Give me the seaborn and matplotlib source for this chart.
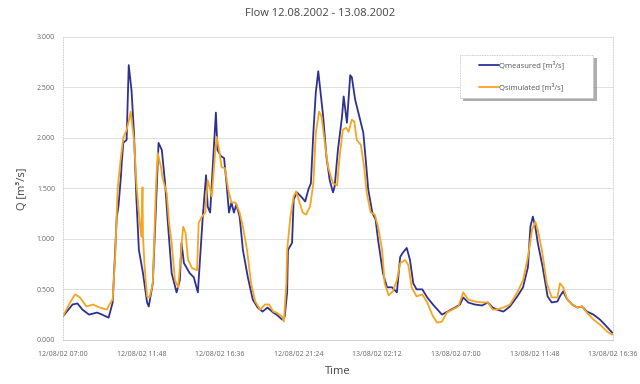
import matplotlib
matplotlib.use("Agg")
import matplotlib.pyplot as plt
import matplotlib.patches as mpatches
import seaborn as sns
import pandas as pd
from matplotlib.ticker import FormatStrFormatter

# hours after 12/08/02 07:00
meas_hours = [0.0, 0.6, 0.9, 1.2, 1.6, 2.1, 2.4, 2.8, 3.05, 3.2, 3.3, 3.4, 3.55, 3.6, 3.7, 3.9,
              3.97, 4.03, 4.2, 4.35, 4.5, 4.65, 4.9, 5.15, 5.25, 5.5, 5.75, 5.85, 6.05, 6.25,
              6.4, 6.65, 6.95, 7.15, 7.25, 7.4, 7.75, 8.0, 8.25, 8.45, 8.55, 8.75, 8.85, 9.0,
              9.1, 9.35, 9.45, 9.65, 9.85, 10.0, 10.15, 10.3, 10.45, 10.6, 10.8, 11.0, 11.3,
              11.6, 11.9, 12.2, 12.5, 12.85, 13.05, 13.4, 13.55, 13.7, 13.75, 14.0, 14.1, 14.3,
              14.6, 14.8, 15.0, 15.15, 15.3, 15.45, 15.6, 15.7, 15.9, 16.1, 16.3, 16.5, 16.6,
              16.8, 17.05, 17.15, 17.35, 17.55, 17.65, 17.85, 18.0, 18.2, 18.35, 18.5, 18.65,
              18.9, 19.1, 19.25, 19.55, 19.8, 20.1, 20.4, 20.6, 20.75, 21.0, 21.2, 21.4, 21.6,
              21.95, 22.25, 22.6, 23.15, 23.5, 23.95, 24.25, 24.45, 24.75, 25.15, 25.6, 25.95,
              26.25, 26.5, 26.9, 27.3, 27.75, 28.1, 28.4, 28.55, 28.7, 28.85, 29.0, 29.3, 29.6,
              29.85, 30.2, 30.35, 30.55, 30.8, 31.1, 31.4, 31.7, 32.0, 32.4, 32.8, 33.1, 33.55]
q_measured = [0.23, 0.35, 0.36, 0.30, 0.25, 0.27, 0.25, 0.22, 0.37, 0.89, 1.22, 1.32, 1.61, 1.75,
              1.95, 1.98, 2.38, 2.72, 2.47, 2.05, 1.39, 0.89, 0.66, 0.37, 0.33, 0.56, 1.55, 1.95,
              1.88, 1.55, 1.20, 0.66, 0.47, 0.59, 0.96, 0.76, 0.66, 0.62, 0.47, 0.96, 1.22, 1.63,
              1.32, 1.26, 1.55, 2.25, 1.88, 1.82, 1.80, 1.55, 1.26, 1.36, 1.26, 1.34, 1.22, 0.89,
              0.62, 0.40, 0.32, 0.28, 0.32, 0.27, 0.25, 0.20, 0.23, 0.47, 0.89, 0.96, 1.39, 1.46,
              1.41, 1.37, 1.49, 1.55, 2.05, 2.45, 2.66, 2.51, 2.21, 1.81, 1.58, 1.46, 1.52, 1.88,
              2.21, 2.41, 2.15, 2.62, 2.60, 2.38, 2.28, 2.15, 2.05, 1.78, 1.49, 1.26, 1.19, 0.99,
              0.66, 0.52, 0.52, 0.47, 0.82, 0.86, 0.91, 0.79, 0.56, 0.50, 0.50, 0.42, 0.35, 0.25,
              0.28, 0.32, 0.35, 0.42, 0.37, 0.35, 0.34, 0.37, 0.32, 0.30, 0.28, 0.33, 0.43, 0.52,
              0.72, 1.12, 1.22, 1.12, 0.96, 0.72, 0.43, 0.37, 0.38, 0.43, 0.48, 0.40, 0.35, 0.32,
              0.33, 0.28, 0.25, 0.20, 0.15, 0.07]

sim_hours = [0.0, 0.45, 0.75, 1.05, 1.45, 1.85, 2.25, 2.7, 2.85, 3.05, 3.2, 3.35, 3.55, 3.7, 3.9,
             4.05, 4.15, 4.35, 4.5, 4.7, 4.8, 4.87, 4.9, 5.0, 5.15, 5.3, 5.5, 5.7, 5.8, 6.0, 6.1,
             6.35, 6.5, 6.65, 6.85, 7.05, 7.2, 7.35, 7.5, 7.65, 7.9, 8.2, 8.3, 8.5, 8.7, 8.85,
             9.0, 9.1, 9.3, 9.4, 9.55, 9.7, 9.9, 10.1, 10.3, 10.55, 10.8, 11.0, 11.25, 11.5,
             11.75, 12.05, 12.35, 12.6, 12.85, 13.05, 13.4, 13.5, 13.65, 13.7, 13.9, 14.1, 14.25,
             14.4, 14.65, 14.85, 15.1, 15.3, 15.45, 15.65, 15.8, 16.0, 16.2, 16.5, 16.75, 16.9,
             17.1, 17.3, 17.45, 17.65, 17.8, 17.95, 18.2, 18.4, 18.55, 18.8, 19.05, 19.25, 19.5,
             19.65, 19.9, 20.15, 20.4, 20.6, 20.9, 21.1, 21.3, 21.6, 21.95, 22.25, 22.55, 22.85,
             23.15, 23.45, 23.8, 24.15, 24.45, 24.75, 25.15, 25.6, 25.95, 26.25, 26.5, 26.9,
             27.3, 27.75, 28.1, 28.4, 28.65, 28.85, 29.0, 29.25, 29.55, 29.85, 30.2, 30.35,
             30.55, 30.8, 31.1, 31.4, 31.7, 32.0, 32.4, 32.8, 33.25, 33.55]
q_simulated = [0.23, 0.37, 0.45, 0.42, 0.33, 0.35, 0.32, 0.30, 0.35, 0.40, 0.82, 1.49, 1.81, 2.00,
               2.08, 2.18, 2.26, 1.98, 1.55, 1.16, 1.02, 1.51, 1.02, 0.72, 0.43, 0.42, 0.56, 1.55,
               1.85, 1.71, 1.60, 1.45, 1.15, 0.96, 0.59, 0.52, 0.82, 1.12, 1.06, 0.79, 0.71, 0.69,
               1.16, 1.22, 1.26, 1.58, 1.49, 1.42, 1.85, 2.01, 1.88, 1.71, 1.70, 1.49, 1.36, 1.36,
               1.26, 1.12, 0.89, 0.56, 0.38, 0.30, 0.35, 0.35, 0.28, 0.27, 0.23, 0.18, 0.56, 0.89,
               1.22, 1.42, 1.47, 1.39, 1.26, 1.24, 1.32, 1.55, 2.05, 2.26, 2.21, 1.95, 1.71, 1.55,
               1.53, 1.81, 2.08, 2.10, 2.06, 2.18, 2.16, 1.98, 1.93, 1.71, 1.46, 1.26, 1.24, 1.12,
               0.89, 0.56, 0.44, 0.48, 0.59, 0.76, 0.79, 0.74, 0.52, 0.43, 0.45, 0.37, 0.25, 0.17,
               0.18, 0.27, 0.30, 0.33, 0.47, 0.40, 0.38, 0.37, 0.37, 0.30, 0.30, 0.32, 0.35, 0.47,
               0.59, 0.82, 1.09, 1.17, 1.09, 0.89, 0.56, 0.42, 0.42, 0.56, 0.52, 0.40, 0.35, 0.32,
               0.33, 0.27, 0.20, 0.15, 0.08, 0.05]

tick_hours = [0, 4.8, 9.6, 14.4, 19.2, 24.0, 28.8, 33.6]
tick_labels = ["12/08/02 07:00", "12/08/02 11:48", "12/08/02 16:36", "12/08/02 21:24",
               "13/08/02 02:12", "13/08/02 07:00", "13/08/02 11:48", "13/08/02 16:36"]
y_ticks = [0, 0.5, 1.0, 1.5, 2.0, 2.5, 3.0]

series_names = ["Qmeasured [m³/s]", "Qsimulated [m³/s]"]
colors = ["#2e3192", "#f7a51e"]

df = pd.concat([
    pd.DataFrame({"hours": meas_hours, "Q": q_measured, "series": series_names[0]}),
    pd.DataFrame({"hours": sim_hours, "Q": q_simulated, "series": series_names[1]}),
])

sns.set_style("white")
plt.rcParams["font.family"] = ["Open Sans", "DejaVu Sans"]

fig = plt.figure(figsize=(6.4, 3.84), dpi=100)
ax = fig.add_axes([0.098, 0.115, 0.86, 0.789])

for name, col in zip(series_names, colors):
    sns.lineplot(data=df[df["series"] == name], x="hours", y="Q", color=col,
                 linewidth=1.3, label=name, ax=ax, estimator=None, sort=False)

ax.set_xlim(0, 33.6)
ax.set_ylim(0, 3.0)
ax.set_xticks(tick_hours)
ax.set_xticklabels(tick_labels)
ax.set_yticks(y_ticks)
ax.yaxis.set_major_formatter(FormatStrFormatter("%.3f"))
ax.tick_params(axis="both", labelsize=5, colors="#666666", length=2, width=0.5)
ax.tick_params(axis="x", pad=6)

ax.grid(axis="y", color="#d8d8e0", linewidth=0.6)
for side in ["left", "right", "top"]:
    ax.spines[side].set_linestyle((0, (1, 2)))
    ax.spines[side].set_color("#c8c8d0")
    ax.spines[side].set_linewidth(0.6)
ax.spines["top"].set_visible(False)
ax.spines["bottom"].set_color("#c8c8d0")
ax.spines["bottom"].set_linewidth(0.6)

ax.set_xlabel("Time", fontsize=8, color="#444444", labelpad=6)
ax.set_ylabel("Q [m³/s]", fontsize=8, color="#444444", labelpad=6)
fig.text(0.5, 0.965, "Flow 12.08.2002 - 13.08.2002", ha="center", va="center",
         fontsize=8, color="#444444")

# legend box drawn separately so it can be wider than the entries
shadow = mpatches.Rectangle((0.728, 0.789), 0.242, 0.142, transform=ax.transAxes,
                            facecolor="#8a8a8a", edgecolor="none", alpha=0.7, zorder=3.9)
box = mpatches.Rectangle((0.722, 0.799), 0.242, 0.142, transform=ax.transAxes,
                         facecolor="white", edgecolor="#bbbbbb", linewidth=0.6,
                         linestyle=(0, (1, 1)), zorder=4)
ax.add_patch(shadow)
ax.add_patch(box)

leg = ax.legend(loc="upper left", bbox_to_anchor=(0.756, 0.922), fontsize=5.5,
                frameon=False, handlelength=2.6, handletextpad=0.1,
                labelspacing=1.75, borderpad=0, borderaxespad=0)
leg.set_zorder(5)
for t in leg.get_texts():
    t.set_color("#555555")

fig.savefig("out.png", dpi=100)
